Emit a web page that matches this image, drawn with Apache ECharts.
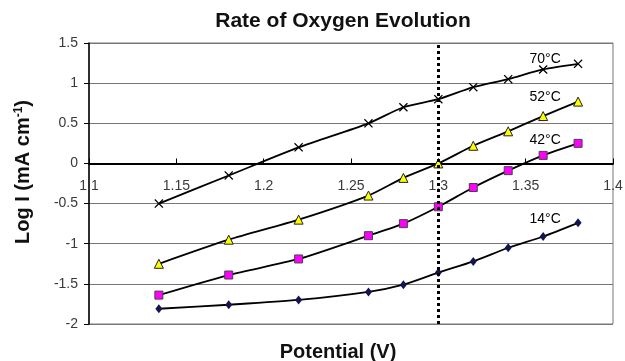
<!DOCTYPE html>
<html>
<head>
<meta charset="utf-8">
<script src="https://cdn.jsdelivr.net/npm/echarts@6/dist/echarts.min.js"></script>
<style>
  html, body { margin: 0; padding: 0; background: #fff; }
  #chart { width: 625px; height: 361px; }
</style>
</head>
<body>
<div id="chart"></div>
<script>
  // potential (V) for every measured point
  const potential = [1.14, 1.18, 1.22, 1.26, 1.28, 1.30, 1.32, 1.34, 1.36, 1.38];
  // log current per temperature
  const t70 = [-0.5, -0.15, 0.2, 0.5, 0.7, 0.8, 0.95, 1.05, 1.17, 1.24];
  const t52 = [-1.25, -0.95, -0.7, -0.4, -0.18, 0.0, 0.22, 0.4, 0.59, 0.77];
  const t42 = [-1.64, -1.39, -1.19, -0.9, -0.75, -0.54, -0.3, -0.09, 0.1, 0.25];
  const t14 = [-1.81, -1.76, -1.7, -1.6, -1.51, -1.36, -1.22, -1.05, -0.91, -0.74];
  const seriesNames = ['70°C', '52°C', '42°C', '14°C'];
  const refPotential = 1.3;

  const labelIndex = 8;
  const crossPath = 'path://M0,1L1,0L5,4L9,0L10,1L6,5L10,9L9,10L5,6L1,10L0,9L4,5Z';

  function makeData(values, lift) {
    return potential.map(function (x, i) {
      let item = { value: [x, values[i]] };
      if (i === labelIndex) {
        item.label = {
          show: true,
          position: 'inside',
          offset: [2, -lift],
          formatter: '{a}',
          color: '#000',
          fontSize: 14,
          fontFamily: 'Liberation Sans'
        };
      }
      return item;
    });
  }

  const styles = [
    { values: t70, symbol: crossPath, size: 9, color: '#000', border: '#000', bw: 0, lift: 10 },
    { values: t52, symbol: 'triangle', size: 9, color: '#ffff00', border: '#222', bw: 1, lift: 18.5 },
    { values: t42, symbol: 'rect', size: 8, color: '#ff00ff', border: '#444', bw: 1, lift: 15 },
    { values: t14, symbol: 'diamond', size: [7, 9], color: '#141452', border: '#141452', bw: 0, lift: 17.5 }
  ];

  let series = styles.map(function (s, k) {
    return {
      name: seriesNames[k],
      type: 'line',
      smooth: 0.25,
      symbol: s.symbol,
      symbolSize: s.size,
      showAllSymbol: true,
      lineStyle: { color: '#000', width: 1.8 },
      itemStyle: { color: s.color, borderColor: s.border, borderWidth: s.bw, opacity: 1 },
      data: makeData(s.values, s.lift),
      z: 3
    };
  });

  // dotted reference line at 1.3 V
  series[0].markLine = {
    silent: true,
    symbol: 'none',
    label: { show: false },
    lineStyle: { color: '#000', type: [3, 3], width: 3 },
    data: [{ xAxis: refPotential }]
  };

  let option = {
    animation: false,
    backgroundColor: '#fff',
    textStyle: { fontFamily: 'Liberation Sans' },
    title: {
      text: 'Rate of Oxygen Evolution',
      left: 338,
      textAlign: 'center',
      top: 6,
      textStyle: { fontSize: 21, fontWeight: 'bold', color: '#111', fontFamily: 'Liberation Sans' }
    },
    grid: {
      left: 89, right: 12, top: 43, bottom: 37,
      containLabel: false, outerBoundsMode: 'none',
      show: true, borderColor: '#777', borderWidth: 1
    },
    xAxis: {
      type: 'value',
      min: 1.1,
      max: 1.4,
      interval: 0.05,
      name: 'Potential (V)',
      nameLocation: 'middle',
      nameGap: 18,
      nameTextStyle: { fontSize: 20, fontWeight: 'bold', color: '#111', padding: [0, 26, 0, 0] },
      axisLine: { onZero: true, lineStyle: { color: '#000', width: 2 } },
      axisTick: { inside: true, length: 5, lineStyle: { color: '#000' } },
      axisLabel: {
        color: '#3a3a3a',
        fontSize: 14,
        margin: -145,
        formatter: function (v) { return String(Math.round(v * 100) / 100); }
      },
      splitLine: { show: false }
    },
    yAxis: {
      type: 'value',
      min: -2,
      max: 1.5,
      interval: 0.5,
      name: '{a|Log I (mA cm}{s|-1}{a|)}',
      nameLocation: 'middle',
      nameGap: 55,
      nameRotate: 90,
      nameTextStyle: {
        padding: [0, 0, 0, 23],
        rich: {
          a: { fontSize: 20, fontWeight: 'bold', color: '#111', fontFamily: 'Liberation Sans' },
          s: { fontSize: 12, fontWeight: 'bold', color: '#111', verticalAlign: 'top', padding: [0, 0, 9, 0], fontFamily: 'Liberation Sans' }
        }
      },
      axisLine: { show: true, lineStyle: { color: '#000', width: 1.5 } },
      axisTick: { show: true, length: 5, lineStyle: { color: '#000' } },
      axisLabel: { color: '#3a3a3a', fontSize: 14, margin: 11 },
      splitLine: { show: true, lineStyle: { color: '#777', width: 1 } }
    },
    series: series
  };

  let myChart = echarts.init(document.getElementById('chart'));
  myChart.setOption(option);
</script>
</body>
</html>
